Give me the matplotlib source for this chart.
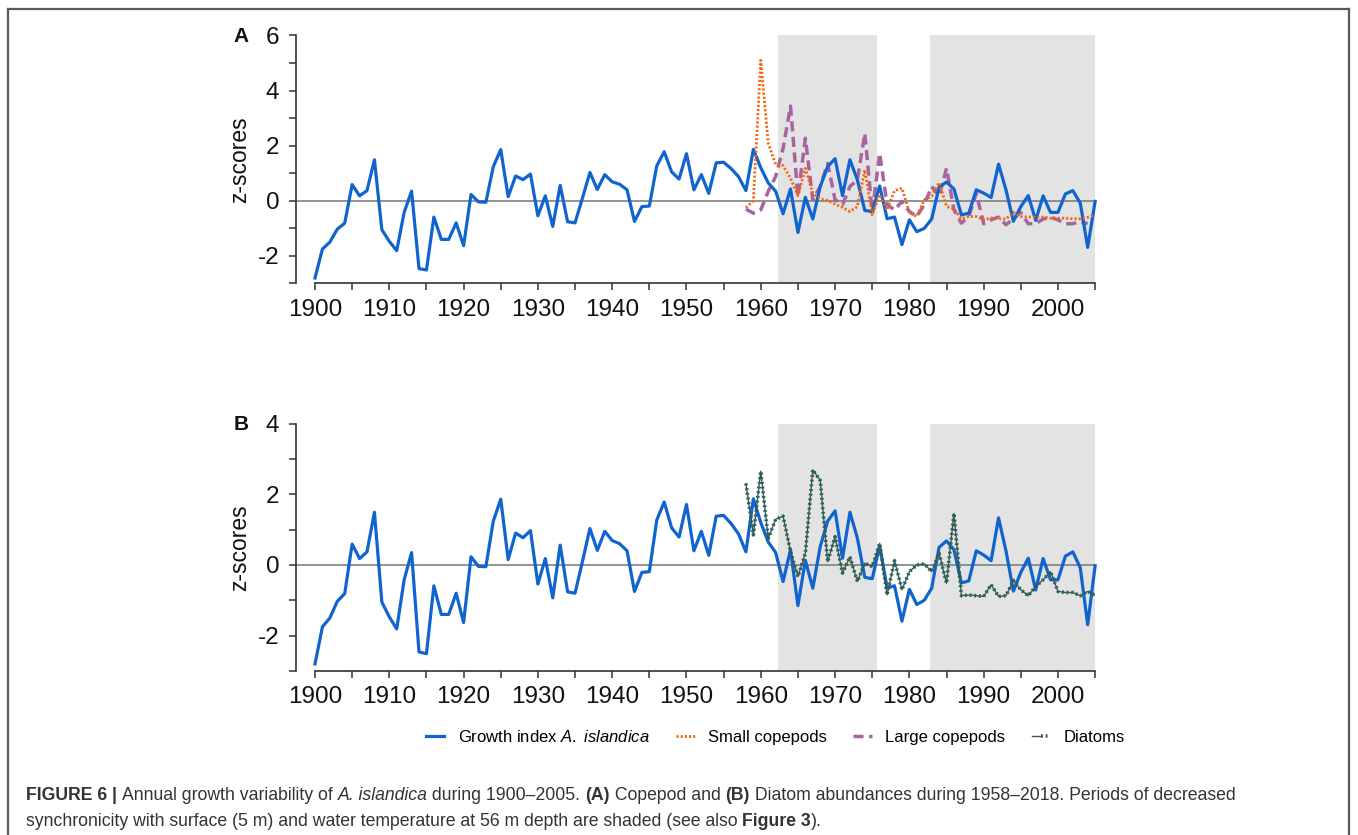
import numpy as np
import matplotlib
matplotlib.use("Agg")
import matplotlib.pyplot as plt
from matplotlib.lines import Line2D
from matplotlib.legend_handler import HandlerTuple

plt.rcParams['font.family'] = ['Liberation Sans', 'DejaVu Sans']
plt.rcParams['mathtext.fontset'] = 'custom'
plt.rcParams['mathtext.rm'] = 'Liberation Sans'
plt.rcParams['mathtext.it'] = 'Liberation Sans:italic'
plt.rcParams['mathtext.bf'] = 'Liberation Sans:bold'
plt.rcParams['axes.unicode_minus'] = False

# ---------------- data ----------------
years = list(range(1900, 2006))
growth = [-2.80, -1.75, -1.50, -1.03, -0.81, 0.59, 0.18, 0.37, 1.49, -1.05,
          -1.47, -1.81, -0.42, 0.35, -2.46, -2.51, -0.59, -1.40, -1.40, -0.80,
          -1.63, 0.23, -0.04, -0.05, 1.24, 1.86, 0.15, 0.90, 0.77, 0.97,
          -0.54, 0.18, -0.93, 0.56, -0.76, -0.80, 0.10, 1.03, 0.41, 0.95,
          0.69, 0.60, 0.40, -0.75, -0.21, -0.19, 1.27, 1.78, 1.05, 0.79,
          1.71, 0.40, 0.95, 0.27, 1.38, 1.40, 1.17, 0.88, 0.37, 1.87,
          1.20, 0.65, 0.35, -0.47, 0.43, -1.15, 0.13, -0.66, 0.52, 1.24,
          1.53, 0.19, 1.49, 0.76, -0.35, -0.39, 0.54, -0.65, -0.59, -1.59,
          -0.69, -1.12, -1.00, -0.66, 0.50, 0.68, 0.43, -0.51, -0.45, 0.40,
          0.28, 0.12, 1.33, 0.40, -0.74, -0.21, 0.19, -0.71, 0.18, -0.42,
          -0.42, 0.25, 0.37, -0.08, -1.69, -0.02]

small_years = list(range(1958, 2006))
small_copepods = [-0.25, 0.00, 5.10, 2.09, 1.33, 1.28, 0.82, 0.19, 1.18, 0.28,
                  0.07, 0.01, -0.12, -0.24, -0.39, -0.21, 1.12, -0.51, 0.22, -0.33,
                  0.37, 0.46, -0.42, -0.57, 0.04, 0.16, 0.66, -0.21, -0.29, -0.65,
                  -0.57, -0.57, -0.69, -0.62, -0.65, -0.66, -0.42, -0.57, -0.59, -0.59,
                  -0.59, -0.63, -0.63, -0.63, -0.65, -0.65, -0.60, -0.51]

large_years = list(range(1958, 2005))
large_copepods = [-0.30, -0.45, -0.33, 0.34, 0.88, 1.90, 3.44, 0.16, 2.27, 0.04,
                  0.52, 1.36, 0.04, -0.14, 0.52, 0.76, 2.45, -0.42, 1.73, -0.14,
                  -0.33, -0.02, -0.39, -0.57, -0.14, 0.52, 0.16, 1.18, -0.33, -0.81,
                  -0.57, 0.28, -0.83, -0.69, -0.59, -0.87, -0.65, -0.42, -0.83, -0.83,
                  -0.66, -0.60, -0.69, -0.83, -0.83, -0.75, -0.83]

diatom_years = list(range(1958, 2006))
diatoms = [2.30, 0.85, 2.65, 0.75, 1.29, 1.38, 0.38, -0.33, 0.33, 2.69,
           2.39, 0.09, 0.80, -0.23, 0.23, -0.47, 0.05, -0.05, 0.61, -0.85,
           0.12, -0.70, -0.19, 0.00, 0.03, -0.19, 0.33, -0.52, 1.46, -0.87,
           -0.85, -0.87, -0.89, -0.56, -0.89, -0.87, -0.44, -0.70, -0.87, -0.61,
           -0.42, -0.19, -0.75, -0.78, -0.78, -0.87, -0.75, -0.86]

shaded_periods = [(1962.3, 1975.6), (1982.8, 2005.0)]
xticks = [1900, 1910, 1920, 1930, 1940, 1950, 1960, 1970, 1980, 1990, 2000]

# ---------------- style ----------------
C_BLUE = '#1064d0'
C_ORANGE = '#f5650f'
C_PURPLE = '#a8649f'
C_DIATOM = '#2f5e58'
C_SHADE = '#e3e3e3'
C_ZERO = '#808080'
C_AX = '#333333'

fig = plt.figure(figsize=(13.58, 8.35), dpi=100)

def style_axis(ax, ymin, ymax, yticks):
    ax.set_xlim(1897.45, 2005.05)
    ax.set_ylim(ymin, ymax)
    for s in ['top', 'right']:
        ax.spines[s].set_visible(False)
    ax.spines['left'].set_bounds(ymin, ymax)
    ax.spines['bottom'].set_bounds(1900, 2005)
    for s in ['left', 'bottom']:
        ax.spines[s].set_color(C_AX)
        ax.spines[s].set_linewidth(1.2)
    ax.set_xticks(xticks)
    ax.set_xticks(np.arange(1905, 2006, 10), minor=True)
    ax.set_yticks(yticks)
    ax.set_yticks(np.arange(ymin, ymax + 0.1, 1), minor=True)
    ax.tick_params(which='major', direction='out', length=5, width=1.1,
                   color=C_AX, labelsize=17.5, labelcolor='#111111')
    ax.tick_params(axis='x', which='major', pad=6)
    ax.tick_params(axis='y', which='major', pad=7)
    ax.tick_params(which='minor', direction='out', length=5, width=1.1, color=C_AX)
    ax.set_ylabel('z-scores', fontsize=16.5, color='#111111', labelpad=5)
    for a, b in shaded_periods:
        ax.axvspan(a, b, color=C_SHADE, lw=0, zorder=0)
    ax.axhline(0, color=C_ZERO, lw=1.2, zorder=1)

axA = fig.add_axes([0.2180, 0.6605, 0.5887, 0.2970])
axB = fig.add_axes([0.2180, 0.1964, 0.5887, 0.2964])

style_axis(axA, -3, 6, [-2, 0, 2, 4, 6])
style_axis(axB, -3, 4, [-2, 0, 2, 4])

# Panel A
lg, = axA.plot(years, growth, color=C_BLUE, lw=2.3, zorder=3, clip_on=False)
ls, = axA.plot(small_years, small_copepods, color=C_ORANGE, lw=2.0,
               linestyle=(0, (0.75, 0.75)), dash_capstyle='butt', zorder=4)
ll, = axA.plot(large_years, large_copepods, color=C_PURPLE, lw=2.5,
               linestyle=(0, (2.9, 1.6)), zorder=2)

# Panel B
axB.plot(years, growth, color=C_BLUE, lw=2.3, zorder=3, clip_on=False)
ld1, = axB.plot(diatom_years, diatoms, color=C_DIATOM, lw=1.0, zorder=4)
ld2, = axB.plot(diatom_years, diatoms, color=C_DIATOM, lw=2.6,
                linestyle=(0, (0.5, 0.8)), zorder=4)

fig.text(241 / 1358, 1 - 36 / 835, 'A', fontsize=15, fontweight='bold',
         ha='center', va='center', color='#111111')
fig.text(241 / 1358, 1 - 424 / 835, 'B', fontsize=15, fontweight='bold',
         ha='center', va='center', color='#111111')

# Legend
handles = [lg, ls, ll, (ld1, ld2)]
labels = [r'Growth index $\it{A.\ islandica}$', 'Small copepods',
          'Large copepods', 'Diatoms']
fig.legend(handles, labels, loc='center', bbox_to_anchor=(0.571, 1 - 737 / 835),
           ncol=4, frameon=False, fontsize=12, handlelength=1.1,
           handletextpad=0.8, columnspacing=1.6,
           handler_map={tuple: HandlerTuple(ndivide=None, pad=0)})

# Frame
frame_c = '#5a5a5a'
fig.add_artist(Line2D([8 / 1358, 1349 / 1358], [1 - 9 / 835, 1 - 9 / 835],
                      transform=fig.transFigure, color=frame_c, lw=1.6))
fig.add_artist(Line2D([8 / 1358, 8 / 1358], [0, 1 - 9 / 835],
                      transform=fig.transFigure, color=frame_c, lw=1.6))
fig.add_artist(Line2D([1349 / 1358, 1349 / 1358], [0, 1 - 9 / 835],
                      transform=fig.transFigure, color=frame_c, lw=1.6))

# Caption with mixed styles
fig.canvas.draw()
renderer = fig.canvas.get_renderer()

def write_runs(runs, x0_px, y_px):
    x = x0_px
    for txt, weight, style in runs:
        t = fig.text(x / 1358, 1 - y_px / 835, txt, fontsize=12.7, fontweight=weight,
                     fontstyle=style, color='#333333', ha='left', va='baseline')
        bb = t.get_window_extent(renderer=renderer)
        x += bb.width

line1 = [('FIGURE 6 | ', 'bold', 'normal'),
         ('Annual growth variability of ', 'normal', 'normal'),
         ('A. islandica', 'normal', 'italic'),
         (' during 1900\u20132005. ', 'normal', 'normal'),
         ('(A)', 'bold', 'normal'),
         (' Copepod and ', 'normal', 'normal'),
         ('(B)', 'bold', 'normal'),
         (' Diatom abundances during 1958\u20132018. Periods of decreased', 'normal', 'normal')]
line2 = [('synchronicity with surface (5 m) and water temperature at 56 m depth are shaded (see also ', 'normal', 'normal'),
         ('Figure 3', 'bold', 'normal'),
         (').', 'normal', 'normal')]
write_runs(line1, 26, 800)
write_runs(line2, 26, 826)

fig.savefig('out.png', dpi=100)
